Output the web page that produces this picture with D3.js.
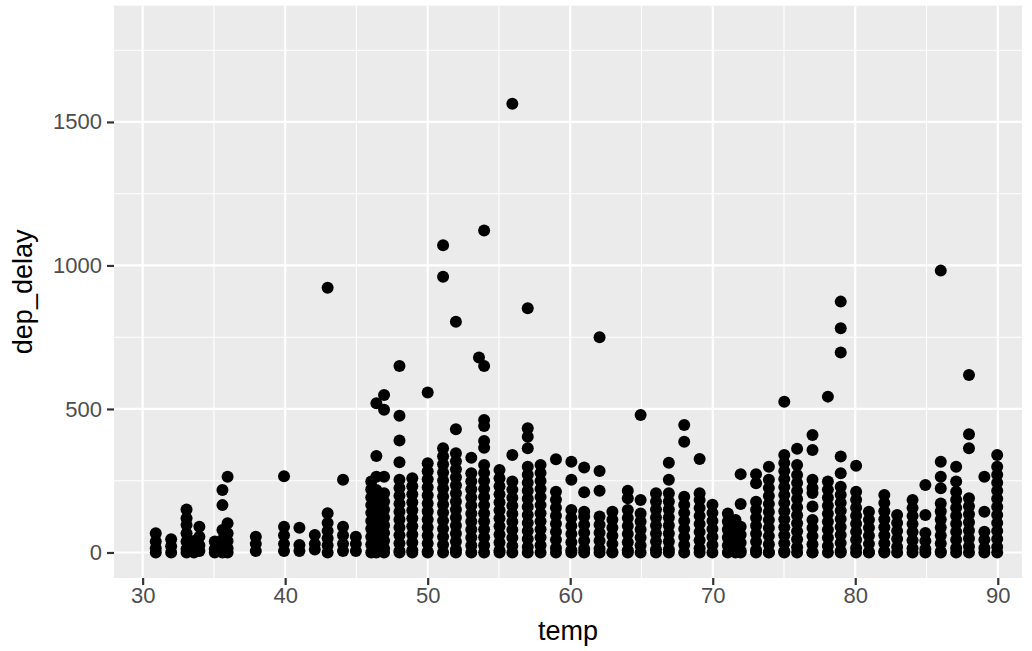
<!DOCTYPE html>
<html>
<head>
<meta charset="utf-8">
<script src="https://cdn.jsdelivr.net/npm/d3@7"></script>
<style>
  body { margin: 0; background: #fff; }
  svg text { font-family: "Liberation Sans", Arial, Helvetica, sans-serif; }
</style>
</head>
<body>
<div id="chart"></div>
<script>
// temperature of each column of points (deg F)
var temps = [30.92, 32.0, 33.08, 33.6, 33.98, 35.06, 35.6, 35.96, 37.94, 39.92,
  41.0, 42.08, 42.98, 44.06, 44.96, 46.04, 46.4, 46.94, 48.02, 48.92,
  50.0, 51.08, 51.98, 53.06, 53.6, 53.96, 55.04, 55.94, 57.02, 57.92,
  59.0, 60.08, 60.98, 62.06, 62.96, 64.04, 64.94, 66.02, 66.92, 68.0,
  69.08, 69.98, 71.06, 71.6, 71.96, 73.04, 73.94, 75.02, 75.92, 77.0,
  78.08, 78.98, 80.06, 80.96, 82.04, 82.94, 84.02, 84.92, 86.0, 87.08,
  87.98, 89.06, 89.96];

// departure delays (minutes), top to bottom
var delays = [
  [67, 38, 15, 0],
  [46, 22, 0],
  [150, 119, 96, 67, 38, 12, 0],
  [40, 15, 0],
  [90, 55, 25, 5],
  [38, 12, 0],
  [218, 165, 78, 44, 20, 0],
  [264, 102, 67, 40, 15, 0],
  [55, 30, 5],
  [266, 90, 60, 30, 5],
  [86, 26, 5],
  [61, 30, 10],
  [922, 137, 103, 75, 50, 25, 0],
  [253, 90, 60, 30, 5],
  [55, 30, 5],
  [247, 220, 192, 165, 138, 110, 83, 55, 28, 0],
  [520, 336, 264, 218, 190, 163, 135, 108, 80, 53, 26, 0],
  [549, 497, 264, 206, 178, 150, 122, 95, 68, 41, 14, 0],
  [650, 476, 390, 314, 253, 225, 198, 170, 142, 115, 87, 60, 32, 5, 0],
  [259, 231, 203, 175, 147, 119, 91, 63, 35, 8, 0],
  [557, 311, 283, 255, 227, 199, 171, 143, 115, 87, 59, 31, 3, 0],
  [1070, 961, 363, 335, 307, 279, 251, 223, 195, 167, 139, 111, 83, 55, 27, 0],
  [804, 429, 346, 318, 290, 262, 234, 206, 178, 150, 122, 94, 66, 38, 10, 0],
  [330, 276, 248, 220, 192, 164, 136, 108, 80, 52, 24, 0],
  [679],
  [1122, 650, 462, 441, 388, 365, 305, 277, 249, 221, 193, 165, 137, 109, 81, 53, 25, 0],
  [287, 259, 231, 203, 175, 147, 119, 91, 63, 35, 7, 0],
  [1563, 340, 247, 219, 191, 163, 135, 107, 79, 51, 23, 0],
  [851, 433, 403, 363, 299, 271, 243, 215, 187, 159, 131, 103, 75, 47, 19, 0],
  [305, 277, 249, 221, 193, 165, 137, 109, 81, 53, 25, 0],
  [325, 212, 184, 156, 128, 100, 72, 44, 16, 0],
  [316, 253, 148, 120, 92, 64, 36, 8, 0],
  [296, 210, 142, 125, 97, 69, 41, 13, 0],
  [750, 284, 215, 125, 97, 69, 41, 13, 0],
  [142, 114, 86, 58, 30, 2, 0],
  [215, 189, 148, 120, 92, 64, 36, 8, 0],
  [479, 183, 136, 108, 80, 52, 24, 0],
  [206, 178, 150, 122, 94, 66, 38, 10, 0],
  [313, 253, 206, 178, 150, 122, 94, 66, 38, 10, 0],
  [444, 386, 194, 166, 138, 110, 82, 54, 26, 0],
  [326, 206, 183, 155, 127, 99, 71, 43, 15, 0],
  [166, 138, 110, 82, 54, 26, 0],
  [136, 108, 80, 52, 24, 0],
  [113, 85, 57, 29, 0],
  [273, 169, 90, 62, 34, 6, 0],
  [273, 241, 177, 149, 121, 93, 65, 37, 9, 0],
  [299, 253, 225, 197, 169, 141, 113, 85, 57, 29, 1, 0],
  [525, 340, 312, 284, 256, 228, 200, 172, 144, 116, 88, 60, 32, 4, 0],
  [361, 305, 270, 242, 214, 186, 158, 130, 102, 74, 46, 18, 0],
  [409, 357, 253, 225, 207, 160, 113, 85, 57, 29, 1, 0],
  [543, 247, 219, 191, 163, 135, 107, 79, 51, 23, 0],
  [874, 781, 697, 334, 276, 229, 201, 173, 145, 117, 89, 61, 33, 5, 0],
  [302, 212, 184, 156, 128, 100, 72, 44, 16, 0],
  [142, 114, 86, 58, 30, 2, 0],
  [200, 172, 144, 116, 88, 60, 32, 4, 0],
  [131, 103, 75, 47, 19, 0],
  [183, 155, 127, 99, 71, 43, 15, 0],
  [235, 131, 68, 40, 12, 0],
  [982, 316, 264, 224, 171, 143, 115, 87, 59, 31, 3, 0],
  [299, 247, 212, 184, 156, 128, 100, 72, 44, 16, 0],
  [618, 412, 363, 189, 161, 133, 105, 77, 49, 21, 0],
  [264, 142, 72, 44, 16, 0],
  [340, 299, 271, 243, 215, 187, 159, 131, 103, 75, 47, 19, 0]
];

var xTicks = [30, 40, 50, 60, 70, 80, 90];
var xMinor = [35, 45, 55, 65, 75, 85];
var yTicks = [0, 500, 1000, 1500];
var yMinor = [250, 750, 1250, 1750];

// flatten into one row per flight
var data = [];
temps.forEach(function(t, i) {
  delays[i].forEach(function(d) { data.push({temp: t, dep_delay: d}); });
});

// dimensions of the panel
var margin = {top: 5.7, right: 10, bottom: 73, left: 114},
    width = 1032 - margin.left - margin.right,
    height = 651 - margin.top - margin.bottom;

var svg = d3.select("#chart")
  .append("svg")
    .attr("width", 1032)
    .attr("height", 651)
  .append("g")
    .attr("transform", "translate(" + margin.left + "," + margin.top + ")");

var x = d3.scaleLinear().domain([27.99, 91.7]).range([0, width]);
var y = d3.scaleLinear().domain([-88.9, 1905]).range([height, 0]);

// grey panel
svg.append("rect")
  .attr("width", width)
  .attr("height", height)
  .attr("fill", "#EBEBEB");

// minor grid
svg.selectAll(".xminor").data(xMinor).enter().append("line")
  .attr("x1", function(d) { return x(d); }).attr("x2", function(d) { return x(d); })
  .attr("y1", 0).attr("y2", height)
  .attr("stroke", "#fff").attr("stroke-width", 1.1);
svg.selectAll(".yminor").data(yMinor).enter().append("line")
  .attr("y1", function(d) { return y(d); }).attr("y2", function(d) { return y(d); })
  .attr("x1", 0).attr("x2", width)
  .attr("stroke", "#fff").attr("stroke-width", 1.1);

// major grid
svg.selectAll(".xmajor").data(xTicks).enter().append("line")
  .attr("x1", function(d) { return x(d); }).attr("x2", function(d) { return x(d); })
  .attr("y1", 0).attr("y2", height)
  .attr("stroke", "#fff").attr("stroke-width", 2.2);
svg.selectAll(".ymajor").data(yTicks).enter().append("line")
  .attr("y1", function(d) { return y(d); }).attr("y2", function(d) { return y(d); })
  .attr("x1", 0).attr("x2", width)
  .attr("stroke", "#fff").attr("stroke-width", 2.2);

// points
svg.append("g").selectAll("circle")
  .data(data)
  .enter()
  .append("circle")
    .attr("cx", function(d) { return x(d.temp); })
    .attr("cy", function(d) { return y(d.dep_delay); })
    .attr("r", 6)
    .attr("fill", "#000");

// axes
var xAxis = svg.append("g")
  .attr("transform", "translate(0," + height + ")")
  .call(d3.axisBottom(x).tickValues(xTicks).tickFormat(d3.format("d")).tickSize(7).tickPadding(2));
var yAxis = svg.append("g")
  .call(d3.axisLeft(y).tickValues(yTicks).tickFormat(d3.format("d")).tickSize(7).tickPadding(5));

[xAxis, yAxis].forEach(function(a) {
  a.select(".domain").remove();
  a.selectAll(".tick line").attr("stroke", "#333333").attr("stroke-width", 2.2);
  a.selectAll(".tick text").attr("fill", "#4D4D4D").style("font-size", "22px");
});

// axis titles
svg.append("text")
  .attr("x", width / 2)
  .attr("y", height + 62)
  .attr("text-anchor", "middle")
  .style("font-size", "27px")
  .attr("fill", "#000")
  .text("temp");

svg.append("text")
  .attr("transform", "translate(" + (32 - margin.left) + "," + (height / 2) + ") rotate(-90)")
  .attr("text-anchor", "middle")
  .style("font-size", "27px")
  .attr("fill", "#000")
  .text("dep_delay");
</script>
</body>
</html>
